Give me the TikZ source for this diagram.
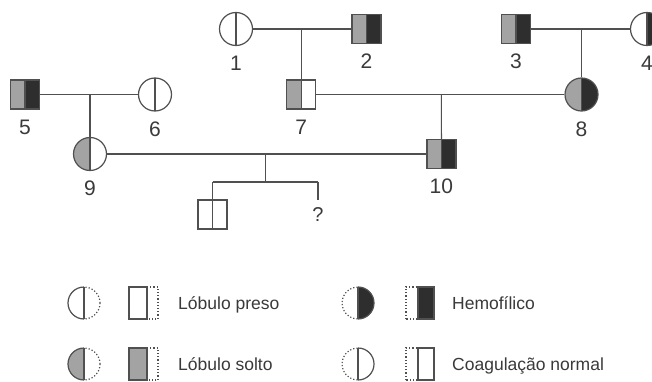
\documentclass[tikz,border=0pt]{standalone}
\usepackage{fontspec}
\setmainfont{Liberation Sans}
\usetikzlibrary{calc}
\definecolor{linec}{HTML}{505050}
\definecolor{lobgray}{HTML}{A3A3A3}
\definecolor{hemodark}{HTML}{2E2E2E}
\definecolor{txt}{HTML}{3A3A3A}

\tikzset{
  solidedge/.style={draw=linec, line width=1.2pt},
  dotedge/.style={draw=linec, line width=1.2pt, dash pattern=on 1.2pt off 2pt},
  ind/.style={solidedge, inner sep=0pt},
  halves/.style 2 args={path picture={
      \fill[#1] (path picture bounding box.north west) rectangle (path picture bounding box.south);
      \fill[#2] (path picture bounding box.north) rectangle (path picture bounding box.south east);
      \draw[linec, line width=1.2pt] (path picture bounding box.north) -- (path picture bounding box.south);}},
  male/.style={ind, rectangle, minimum size=29pt},
  female/.style={ind, circle, minimum size=33pt},
  tag/.style={label={[font=\fontsize{21}{21}\selectfont, text=txt, inner sep=0pt, yshift=-10pt]below:#1}},
  link/.style={linec, line width=1.2pt},
  legtext/.style={font=\fontsize{17.5}{17.5}\selectfont, text=txt, anchor=base west, inner sep=0pt},
  % legend circle: left edge, left fill, right edge, right fill
  pics/legcirc/.style n args={4}{code={
      \begin{scope}
        \clip (-20pt,-20pt) rectangle (0pt,20pt);
        \fill[#2] (0,0) circle (16pt);
        \draw[#1] (0,0) circle (16pt);
      \end{scope}
      \begin{scope}
        \clip (0pt,-20pt) rectangle (20pt,20pt);
        \fill[#4] (0,0) circle (16pt);
        \draw[#3] (0,0) circle (16pt);
      \end{scope}
      \draw[solidedge] (0pt,-16pt) -- (0pt,16pt);
  }},
  % legend box: left edge, left fill, left width, right edge, right fill, right width
  pics/legrect/.style n args={6}{code={
      \fill[#2] (-#3pt,-16pt) rectangle (0pt,16pt);
      \draw[#1] (-#3pt,-16pt) rectangle (0pt,16pt);
      \fill[#5] (0pt,-16pt) rectangle (#6pt,16pt);
      \draw[#4] (0pt,-16pt) rectangle (#6pt,16pt);
      \draw[solidedge] (0pt,-16pt) -- (0pt,16pt);
  }}
}

\begin{document}
\begin{tikzpicture}[x=1pt, y=-1pt]
  \useasboundingbox (0,0) rectangle (652,382);
  \fill[white] (0,0) rectangle (652,382);
  \clip (0,0) rectangle (652,382);

  % individuals
  \node[female, halves={white}{white},       tag=1] (i1) at (236,29) {};
  \node[male,   halves={lobgray}{hemodark},  tag=2] (i2) at (366.5,29) {};
  \node[male,   halves={lobgray}{hemodark},  tag=3] (i3) at (516,29) {};
  \node[female, halves={white}{hemodark},    tag=4] (i4) at (647,29) {};
  \node[male,   halves={lobgray}{hemodark},  tag=5] (i5) at (25,94.5) {};
  \node[female, halves={white}{white},       tag=6] (i6) at (155,94.5) {};
  \node[male,   halves={lobgray}{white},     tag=7] (i7) at (301.25,94.5) {};
  \node[female, halves={lobgray}{hemodark},  tag=8] (i8) at (581.5,94.5) {};
  \node[female, halves={lobgray}{white},     tag=9] (i9) at (90,154) {};
  \node[male,   halves={lobgray}{hemodark},  tag=10] (i10) at (441.4,154) {};
  \node[male,   halves={white}{white}] (i11) at (212.5,214.5) {};
  \node[font=\fontsize{20}{20}\selectfont, text=txt, inner xsep=0pt, inner ysep=7pt, anchor=north] (i12) at (318,200) {?};

  % couples and descent
  \coordinate (u12) at ($(i1)!.5!(i2)$);
  \coordinate (u34) at ($(i3)!.5!(i4)$);
  \coordinate (u56) at ($(i5)!.5!(i6)$);
  \coordinate (u78) at ($(i7)!.5!(i8)$);
  \coordinate (u910) at ($(i9)!.5!(i10)$);
  \draw[link] (i1) -- (i2);
  \draw[link] (i3) -- (i4);
  \draw[link] (i5) -- (i6);
  \draw[link] (i7) -- (i8);
  \draw[link] (i9) -- (i10);
  \draw[link] (u12) -- (i7);
  \draw[link] (u34) -- (i8);
  \draw[link] (u56) -- (i9);
  \draw[link] (u78) -- (i10);

  % sibship
  \coordinate (s) at ($(u910)+(0,28)$);
  \coordinate (sl) at (i11 |- s);
  \coordinate (sr) at (i12 |- s);
  \draw[link] (u910) -- (s);
  \draw[link] (sl) -- (sr);
  \draw[link] (sl) -- (i11);
  \draw[link] (sr) -- (i12);

  % legend
  \pic (lc1) at (84,303)  {legcirc={solidedge}{white}{dotedge}{white}};
  \pic (lr1) at (147,303) {legrect={solidedge}{white}{18}{dotedge}{white}{11}};
  \node[legtext] (t1) at (178,309.5) {Lóbulo preso};
  \pic (lc2) at (84,364)  {legcirc={solidedge}{lobgray}{dotedge}{white}};
  \pic (lr2) at (147,364) {legrect={solidedge}{lobgray}{18}{dotedge}{white}{11}};
  \node[legtext] (t2) at (178,370.5) {Lóbulo solto};
  \pic (lc3) at (358,303) {legcirc={dotedge}{white}{solidedge}{hemodark}};
  \pic (lr3) at (418,303) {legrect={dotedge}{white}{12}{solidedge}{hemodark}{16}};
  \node[legtext] (t3) at (452,309.5) {Hemofílico};
  \pic (lc4) at (358,364) {legcirc={dotedge}{white}{solidedge}{white}};
  \pic (lr4) at (418,364) {legrect={dotedge}{white}{12}{solidedge}{white}{16}};
  \node[legtext] (t4) at (452,370.5) {Coagulação normal};
\end{tikzpicture}
\end{document}
